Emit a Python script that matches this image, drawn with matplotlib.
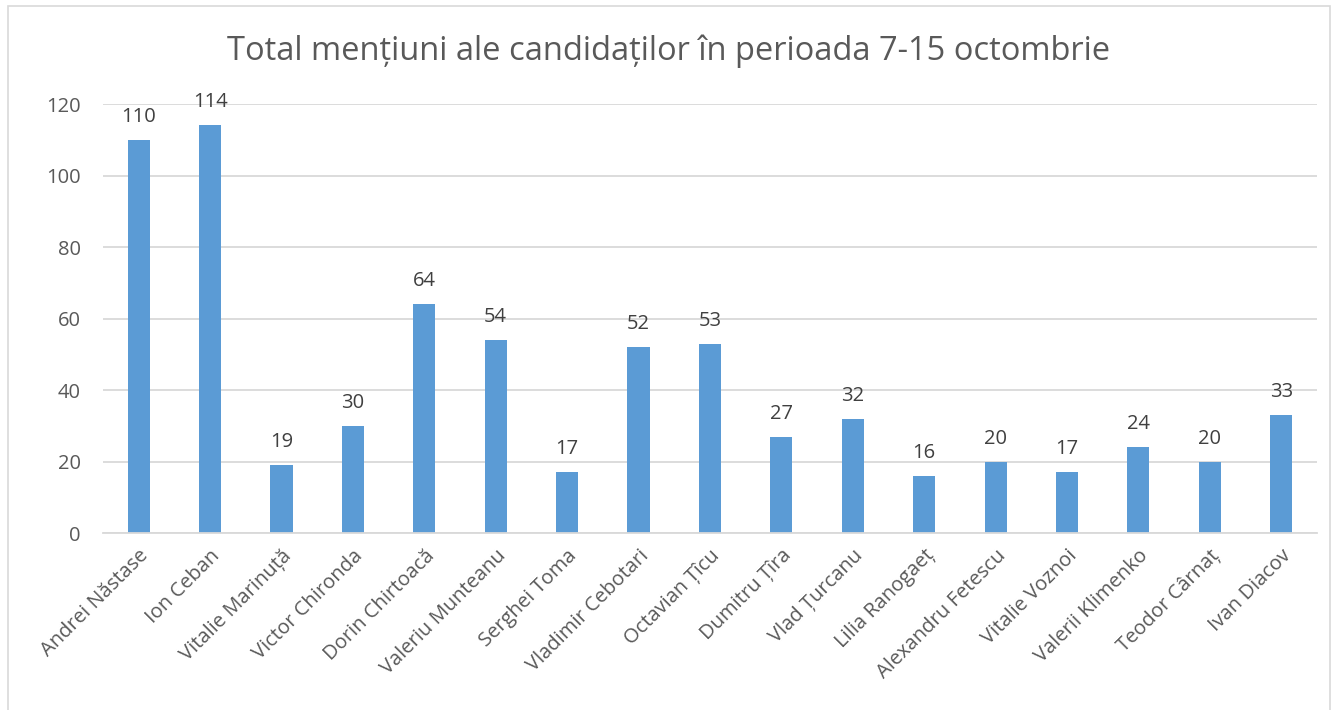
import matplotlib
matplotlib.use("Agg")
import matplotlib.pyplot as plt
from matplotlib.patches import Rectangle

candidates = ["Andrei Năstase", "Ion Ceban", "Vitalie Marinuță", "Victor Chironda",
              "Dorin Chirtoacă", "Valeriu Munteanu", "Serghei Toma", "Vladimir Cebotari",
              "Octavian Țîcu", "Dumitru Țîra", "Vlad Țurcanu", "Lilia Ranogaeț",
              "Alexandru Fetescu", "Vitalie Voznoi", "Valerii Klimenko", "Teodor Cârnaț",
              "Ivan Diacov"]
mentions = [110, 114, 19, 30, 64, 54, 17, 52, 53, 27, 32, 16, 20, 17, 24, 20, 33]
yticks = [0, 20, 40, 60, 80, 100, 120]
title = "Total mențiuni ale candidaților în perioada 7-15 octombrie"

plt.rcParams['font.family'] = ['Open Sans', 'DejaVu Sans']
txt = "#595959"

fig = plt.figure(figsize=(13.37, 7.10), dpi=100)
ax = fig.add_axes([0.077, 0.249, 0.908, 0.6045])
x = list(range(len(candidates)))
bars = ax.bar(x, mentions, width=0.31, color="#5B9BD5", zorder=3)
for xi, v in zip(x, mentions):
    ax.annotate(str(v), (xi, v), xytext=(0, 13), textcoords="offset points",
                ha="center", va="baseline", fontsize=14.5, color="#404040")
ax.set_xlim(-0.5, len(candidates) - 0.5)
ax.set_ylim(0, 120)
ax.set_yticks(yticks)
ax.set_yticklabels([str(t) for t in yticks], fontsize=14.5, color=txt)
ax.set_xticks(x)
ax.set_xticklabels(candidates, rotation=45, ha="right", rotation_mode="anchor",
                   fontsize=14.5, color=txt)
ax.tick_params(axis="y", length=0, pad=16)
ax.tick_params(axis="x", length=0, pad=9)
ax.grid(axis="y", color="#D9D9D9", linewidth=1.3, zorder=0)
for s in ["top", "right", "left"]:
    ax.spines[s].set_visible(False)
ax.spines["bottom"].set_color("#D9D9D9")
ax.spines["bottom"].set_linewidth(1.3)
ax.spines["bottom"].set_zorder(4)

fig.text(0.5, 0.928, title, ha="center", va="center", fontsize=23.5, color=txt)
fig.patches.append(Rectangle((8 / 1337, -0.1), 1322 / 1337, 1.1 - 6 / 710,
                             transform=fig.transFigure, fill=False,
                             edgecolor="#D9D9D9", linewidth=1.2))
fig.savefig("out.png", dpi=100)
